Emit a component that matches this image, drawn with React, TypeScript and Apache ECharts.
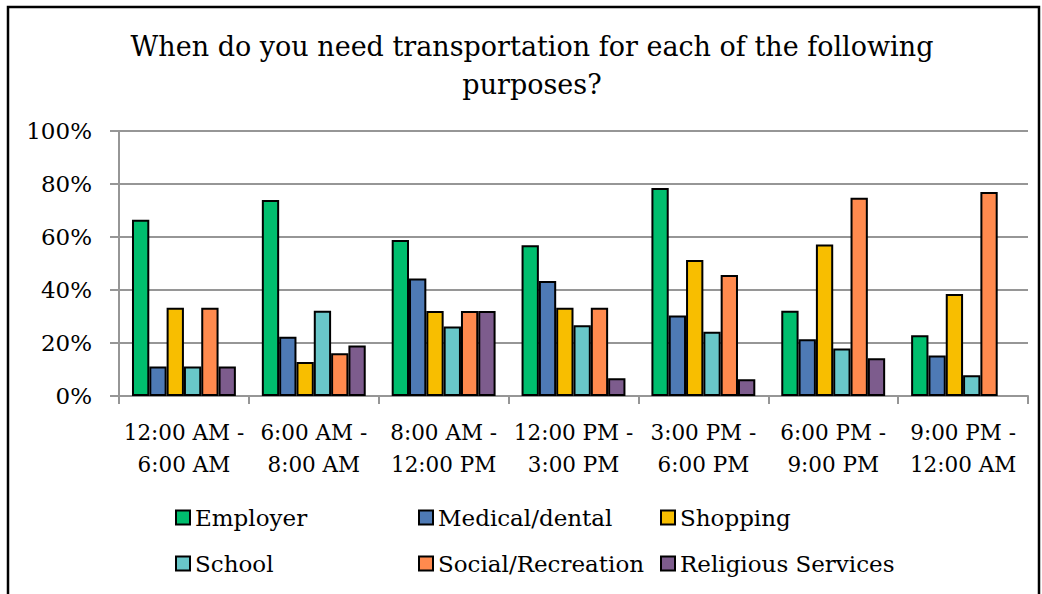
import React, { useEffect, useRef } from "react";
import * as echarts from "echarts";

const categories = [
  "12:00 AM -\n6:00 AM",
  "6:00 AM -\n8:00 AM",
  "8:00 AM -\n12:00 PM",
  "12:00 PM -\n3:00 PM",
  "3:00 PM -\n6:00 PM",
  "6:00 PM -\n9:00 PM",
  "9:00 PM -\n12:00 AM",
];
const seriesNames = ["Employer", "Medical/dental", "Shopping", "School", "Social/Recreation", "Religious Services"];
const employer = [66.5, 74.0, 58.9, 56.9, 78.5, 32.2, 22.9];
const medical = [11.1, 22.4, 44.3, 43.4, 30.4, 21.4, 15.3];
const shopping = [33.3, 12.8, 32.1, 33.3, 51.3, 57.2, 38.5];
const school = [11.1, 32.2, 26.2, 26.7, 24.2, 17.9, 7.8];
const social = [33.3, 16.1, 32.1, 33.3, 45.7, 74.8, 77.0];
const religious: (number | null)[] = [11.1, 19.1, 32.1, 6.7, 6.3, 14.2, null];
const yTicks = [0, 20, 40, 60, 80, 100];

const colors = ["#00BE6E", "#4E7AB5", "#F8BE00", "#69C7C9", "#FF8A4E", "#7D5C8D"];
const seriesData = [employer, medical, shopping, school, social, religious];

const FONT = "DejaVu Serif";

export default function App() {
  const ref = useRef<HTMLDivElement>(null);
  useEffect(() => {
    if (!ref.current) return;
    const chart = echarts.init(ref.current, null, { renderer: "svg" });
    const legendPos = [
      [175, 506],
      [418, 506],
      [660, 506],
      [175, 552],
      [418, 552],
      [660, 552],
    ];
    chart.setOption({
      animation: false,
      title: {
        text: "When do you need transportation for each of the following\npurposes?",
        left: 527,
        top: 22,
        textAlign: "center",
        textStyle: {
          fontFamily: FONT,
          fontSize: 27,
          fontWeight: "normal",
          color: "#000",
          lineHeight: 38,
        },
      },
      legend: seriesNames.map((n, i) => ({
        data: [n],
        left: legendPos[i][0],
        top: legendPos[i][1],
        padding: 0,
        icon: "rect",
        itemWidth: 14,
        itemHeight: 14,
        textStyle: { fontFamily: FONT, fontSize: 23, color: "#000" },
      })),
      grid: { left: 119, right: 14, top: 131, bottom: 198, containLabel: false },
      xAxis: {
        type: "category",
        data: categories,
        axisLine: { lineStyle: { color: "#969696", width: 2 } },
        axisTick: { show: true, length: 8, lineStyle: { color: "#969696", width: 2 } },
        axisLabel: {
          margin: 20,
          fontFamily: FONT,
          fontSize: 21.5,
          lineHeight: 32,
          color: "#000",
          interval: 0,
        },
      },
      yAxis: {
        type: "value",
        min: 0,
        max: 100,
        interval: 20,
        axisLine: { show: true, lineStyle: { color: "#969696", width: 2 } },
        axisTick: { show: true, length: 9, lineStyle: { color: "#969696", width: 2 } },
        splitLine: { lineStyle: { color: "#969696", width: 2 } },
        axisLabel: {
          margin: 27,
          fontFamily: FONT,
          fontSize: 23,
          color: "#000",
          formatter: (v: number) => (yTicks.includes(v) ? v + "%" : ""),
        },
      },
      series: seriesNames.map((n, i) => ({
        name: n,
        type: "bar",
        data: seriesData[i],
        barGap: "0%",
        barCategoryGap: "20%",
        itemStyle: { color: colors[i], borderColor: "#000", borderWidth: 2 },
      })),
      graphic: [
        {
          type: "rect",
          shape: { x: 8, y: 7, width: 1031, height: 620 },
          style: { fill: "none", stroke: "#000", lineWidth: 2.5 },
          silent: true,
        },
      ],
    });
    return () => chart.dispose();
  }, []);
  return (
    <div
      ref={ref}
      style={{ position: "fixed", left: 0, top: 0, width: 1042, height: 594, background: "#fff" }}
    />
  );
}
